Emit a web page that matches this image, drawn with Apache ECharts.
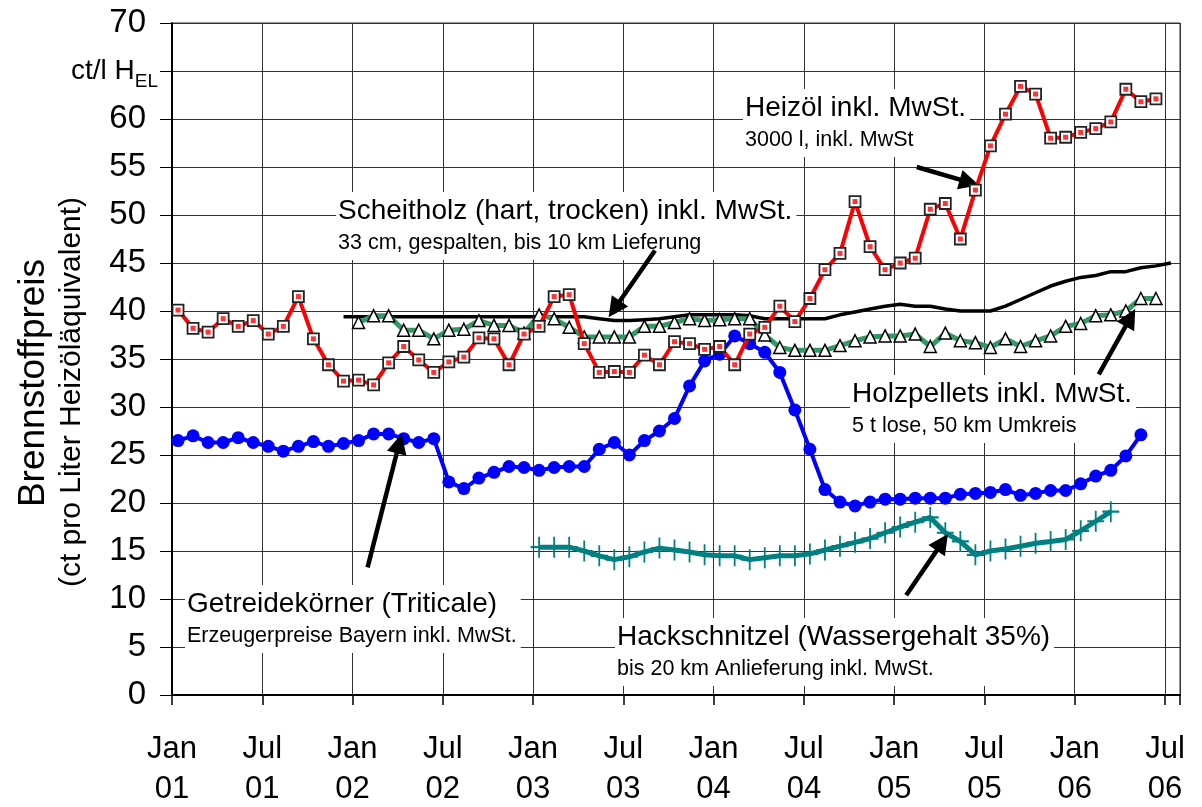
<!DOCTYPE html>
<html>
<head>
<meta charset="utf-8">
<script src="https://cdn.jsdelivr.net/npm/echarts@6/dist/echarts.min.js"></script>
<style>
html,body{margin:0;padding:0;background:#fff;}
#c{width:1202px;height:807px;}
</style>
</head>
<body>
<div id="c"></div>
<script>
// ---- data (x = months since Jan 2001) ----
const xTickLabels = ['Jan\n01','Jul\n01','Jan\n02','Jul\n02','Jan\n03','Jul\n03','Jan\n04','Jul\n04','Jan\n05','Jul\n05','Jan\n06','Jul\n06'];
const yTickValues = [0,5,10,15,20,25,30,35,40,45,50,55,60,65,70];
const yUnitLabel = 'ct/l H';
const yUnitSub = 'EL';
const sampleOffset = 0.4; // price survey date within each month

const heizoelStart = 0;
const heizoel = [40.1,38.2,37.8,39.2,38.4,39.0,37.6,38.4,41.5,37.1,
                 34.4,32.7,32.8,32.3,34.6,36.3,34.9,33.6,34.7,35.2,
                 37.2,37.1,34.4,37.6,38.4,41.5,41.7,36.6,33.6,33.7,
                 33.6,35.4,34.4,36.8,36.6,36.0,36.3,34.4,37.6,38.3,
                 40.5,38.9,41.3,44.3,46.0,51.4,46.7,44.3,45.0,45.5,
                 50.6,51.2,47.5,52.6,57.2,60.5,63.4,62.6,58.0,58.1,
                 58.6,59.0,59.7,63.1,61.8,62.1];

const getreideStart = 0;
const getreide = [26.5,27.0,26.3,26.3,26.8,26.3,25.9,25.4,25.9,26.4,
                  25.9,26.2,26.5,27.2,27.2,26.7,26.3,26.7,22.2,21.5,
                  22.6,23.2,23.8,23.7,23.4,23.7,23.8,23.8,25.6,26.3,
                  25.0,26.5,27.5,28.8,32.2,34.8,35.5,37.4,36.6,35.7,
                  33.6,29.7,25.6,21.4,20.1,19.7,20.1,20.4,20.4,20.5,
                  20.5,20.5,20.9,21.0,21.1,21.4,20.8,21.0,21.3,21.3,
                  22.0,22.8,23.4,24.9,27.1];

const pelletsStart = 12;
const pellets = [38.8,39.5,39.5,38.0,38.0,37.1,38.0,38.1,39.0,38.5,
                 38.5,37.7,39.6,39.2,38.3,37.3,37.3,37.3,37.3,38.4,
                 38.4,38.8,39.2,39.0,39.1,39.2,39.2,37.5,36.2,35.9,
                 35.9,35.9,36.4,36.9,37.3,37.4,37.4,37.6,36.3,37.7,
                 36.9,36.7,36.2,37.1,36.3,36.9,37.4,38.4,38.7,39.5,
                 39.6,40.0,41.3,41.3];

const scheitholzStart = 11;
const scheitholz = [39.4,39.4,39.4,39.4,39.4,39.4,39.4,39.4,39.4,39.4,
                    39.4,39.4,39.4,39.4,39.4,39.4,39.4,39.2,39.0,39.0,
                    39.1,39.2,39.4,39.6,39.6,39.6,39.6,39.5,39.2,39.2,
                    39.2,39.2,39.2,39.6,39.9,40.2,40.5,40.7,40.5,40.5,
                    40.2,40.0,40.0,40.0,40.5,41.2,41.9,42.6,43.1,43.5,
                    43.7,44.1,44.1,44.5,44.7,45.0];

const hackStart = 24;
const hack = [15.4,15.4,15.4,15.0,14.5,14.1,14.4,14.9,15.3,15.1,
              14.9,14.6,14.5,14.5,14.1,14.3,14.5,14.5,14.7,15.1,
              15.5,15.9,16.3,16.9,17.5,18.0,18.5,16.9,16.0,14.6,
              15.0,15.2,15.5,15.8,16.0,16.2,17.1,18.1,19.1];

// annotation arrows: [tail, head] in data units (month, ct/l)
const arrows = [
  [[49.5,55.0],[53.0,53.4]],
  [[32.1,46.3],[29.4,40.2]],
  [[61.6,33.4],[63.7,39.3]],
  [[13.0,13.3],[15.1,26.2]],
  [[48.8,10.4],[51.2,15.9]]
];

function toPoints(start, vals){
  return vals.map((v,i)=>[start + i + sampleOffset, v]);
}

const FONT = '"Liberation Sans", Arial, sans-serif';
const chart = echarts.init(document.getElementById('c'), null, {renderer:'canvas'});

function annot(x, y, title, sub){
  return {
    type:'text', x:x, y:y, z:1,
    style:{
      text:'{a|' + title + '}\n{b|' + sub + '}',
      align:'left', verticalAlign:'top',
      backgroundColor:'#fff',
      padding:[2,4,2,2],
      rich:{
        a:{fontFamily:FONT, fontSize:28, lineHeight:34, fill:'#000'},
        b:{fontFamily:FONT, fontSize:21.5, lineHeight:30, fill:'#000'}
      }
    }
  };
}

const option = {
  backgroundColor:'#fff',
  animation:false,
  grid:{left:172, right:22, top:23, bottom:112, show:true, borderColor:'#333', borderWidth:1, containLabel:false, outerBoundsMode:'none'},
  xAxis:{
    type:'value', min:0, max:67, interval:6,
    axisLine:{show:true, lineStyle:{color:'#000', width:2}},
    axisTick:{show:true, length:10, lineStyle:{color:'#000', width:1.5}},
    splitLine:{show:true, lineStyle:{color:'#333', width:1}},
    axisLabel:{
      fontFamily:FONT, fontSize:31, lineHeight:40, color:'#000', margin:34,
      formatter:function(v){ const i = v/6; return (Number.isInteger(i) && xTickLabels[i]) ? xTickLabels[i] : ''; }
    }
  },
  yAxis:{
    type:'value', min:0, max:70, interval:5,
    axisLine:{show:true, lineStyle:{color:'#000', width:2}},
    axisTick:{show:true, length:12, lineStyle:{color:'#000', width:1}},
    splitLine:{show:true, lineStyle:{color:'#333', width:1}},
    axisLabel:{
      margin:14, color:'#000',
      formatter:function(v){
        if (v === 65) return '{u|' + yUnitLabel + '}{s|' + yUnitSub + '}';
        return yTickValues.indexOf(v) >= 0 ? '{n|' + v + '}' : '';
      },
      rich:{
        n:{fontFamily:FONT, fontSize:33, color:'#000', padding:[0,12,0,0]},
        u:{fontFamily:FONT, fontSize:28, color:'#000', lineHeight:40, verticalAlign:'middle'},
        s:{fontFamily:FONT, fontSize:19, color:'#000', lineHeight:40, verticalAlign:'bottom'}
      }
    }
  },
  graphic:[
    {type:'text', x:34, y:383, rotation:Math.PI/2, z:1,
     style:{text:'Brennstoffpreis', fontFamily:FONT, fontSize:37, fill:'#000', align:'center', verticalAlign:'middle'}},
    {type:'text', x:72, y:392, rotation:Math.PI/2, z:1,
     style:{text:'(ct pro Liter Heizöläquivalent)', fontFamily:FONT, fontSize:30, fill:'#000', align:'center', verticalAlign:'middle'}},
    annot(743, 89, 'Heizöl inkl. MwSt.', '3000 l, inkl. MwSt'),
    annot(336, 192, 'Scheitholz (hart, trocken) inkl. MwSt.', '33 cm, gespalten, bis 10 km Lieferung'),
    annot(850, 375, 'Holzpellets inkl. MwSt.', '5 t lose, 50 km Umkreis'),
    annot(185, 585, 'Getreidekörner (Triticale)', 'Erzeugerpreise Bayern inkl. MwSt.'),
    annot(615, 618, 'Hackschnitzel (Wassergehalt 35%)', 'bis 20 km Anlieferung inkl. MwSt.')
  ],
  series:[
    {
      name:'Scheitholz', type:'line', data:toPoints(scheitholzStart, scheitholz),
      showSymbol:false, symbol:'none', lineStyle:{color:'#000', width:3.5}, z:2,
      markLine:{
        silent:true, symbol:['none','triangle'], symbolSize:20,
        label:{show:false},
        lineStyle:{color:'#000', width:4.5, type:'solid'},
        data:arrows.map(a=>[{coord:a[0], symbol:'none'},{coord:a[1], symbol:'triangle', symbolSize:20}])
      }
    },
    {
      name:'Holzpellets', type:'line', data:toPoints(pelletsStart, pellets),
      symbol:'triangle', symbolSize:12,
      lineStyle:{color:'#339966', width:5},
      itemStyle:{color:'#fff', borderColor:'#000', borderWidth:1.5}, z:3
    },
    {
      name:'Hackschnitzel', type:'line', data:toPoints(hackStart, hack),
      symbol:'path://M5,0 L5,10 M0,5 L10,5', symbolSize:[17,21],
      lineStyle:{color:'#008080', width:5},
      itemStyle:{color:'none', borderColor:'#008080', borderWidth:2}, z:3
    },
    {
      name:'Getreide', type:'line', data:toPoints(getreideStart, getreide),
      symbol:'circle', symbolSize:13,
      lineStyle:{color:'#0000ff', width:4},
      itemStyle:{color:'#0000ff', borderColor:'#0000ff', borderWidth:0}, z:4
    },
    {
      name:'Heizöl', type:'line', data:toPoints(heizoelStart, heizoel),
      symbol:'rect', symbolSize:11,
      lineStyle:{color:'#ff0000', width:4},
      itemStyle:{color:'#fff', borderColor:'#222', borderWidth:1.8}, z:5
    },
    {
      name:'Heizöl-Kern', type:'scatter', data:toPoints(heizoelStart, heizoel),
      symbol:'rect', symbolSize:5, silent:true,
      itemStyle:{color:'#ff0000'}, z:6
    }
  ]
};
chart.setOption(option);
</script>
</body>
</html>
